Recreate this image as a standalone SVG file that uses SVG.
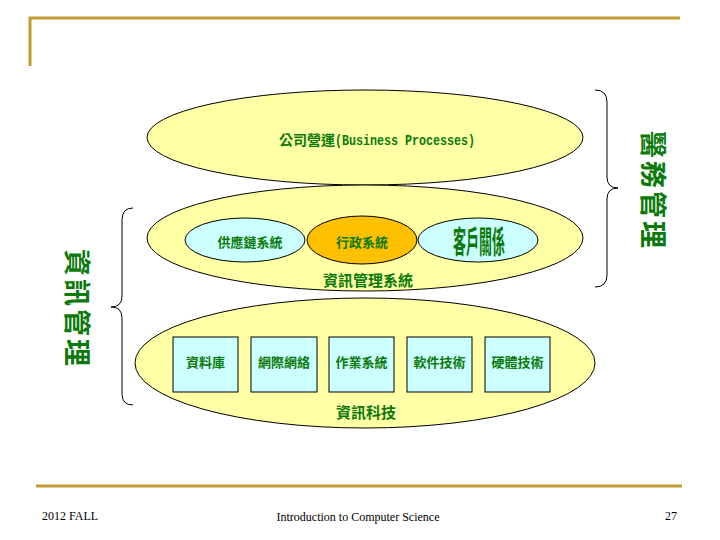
<svg xmlns="http://www.w3.org/2000/svg" width="720" height="540" viewBox="0 0 720 540">
<style>
.big{fill:#FFFFA6;stroke:#000;stroke-width:1}
.cyan{fill:#CCFFFF;stroke:#000;stroke-width:1}
.orange{fill:#FFC000;stroke:#000;stroke-width:1}
.g{fill:#0B7A0B;font-family:"Noto Sans CJK TC","Noto Sans CJK SC",sans-serif;font-weight:bold;text-anchor:middle}
.foot{fill:#000;font-family:"Liberation Serif",serif;font-size:12px}
.brace{fill:none;stroke:#000;stroke-width:1}
.gold{stroke:#BF9B30;stroke-width:3;fill:none}
</style>
<rect width="720" height="540" fill="#fff"/>
<g id="frame">
<path class="gold" d="M30,66 V18 H680"/>
<line class="gold" x1="36" y1="486" x2="682" y2="486"/>
</g>
<g id="business">
<ellipse class="big" cx="365" cy="137.5" rx="218" ry="47.5"/>
<text class="g" x="377" y="145" font-size="14">公司營運<tspan font-family="'Liberation Mono',monospace" textLength="140" lengthAdjust="spacingAndGlyphs">(Business Processes)</tspan></text>
</g>
<g id="mis">
<ellipse class="big" cx="365" cy="238" rx="218" ry="53"/>
<text class="g" x="368" y="286" font-size="15">資訊管理系統</text>
</g>
<g id="scm">
<ellipse class="cyan" cx="245" cy="240" rx="60" ry="22"/>
<text class="g" x="250" y="247" font-size="13">供應鏈系統</text>
</g>
<g id="crm">
<ellipse class="cyan" cx="478" cy="240" rx="60" ry="22"/>
<text class="g" transform="translate(479,242) scale(1,2.4)" x="0" y="4.5" font-size="13">客戶關係</text>
</g>
<g id="admin">
<ellipse class="orange" cx="362" cy="240" rx="55" ry="24"/>
<text class="g" x="362" y="247" font-size="13">行政系統</text>
</g>
<g id="it">
<ellipse class="big" cx="365" cy="363" rx="230" ry="65"/>
<text class="g" x="366" y="418" font-size="15">資訊科技</text>
</g>
<g id="db">
<rect class="cyan" x="173" y="337" width="65" height="55"/>
<text class="g" x="205.5" y="367" font-size="13">資料庫</text>
</g>
<g id="net">
<rect class="cyan" x="251" y="337" width="66" height="55"/>
<text class="g" x="284" y="367" font-size="13">網際網絡</text>
</g>
<g id="os">
<rect class="cyan" x="329" y="337" width="65" height="55"/>
<text class="g" x="361.5" y="367" font-size="13">作業系統</text>
</g>
<g id="sw">
<rect class="cyan" x="407" y="337" width="65" height="55"/>
<text class="g" x="439.5" y="367" font-size="13">軟件技術</text>
</g>
<g id="hw">
<rect class="cyan" x="485" y="337" width="65" height="55"/>
<text class="g" x="517.5" y="367" font-size="13">硬體技術</text>
</g>
<g id="connectors">
<path class="brace" d="M133,208 Q122,208 122,220 L122,296 Q122,307 111,307 Q122,307 122,318 L122,394 Q122,405 133,405"/>
<path class="brace" d="M595,90 Q607,90 607,102 L607,177 Q607,188 618,188 Q607,188 607,199 L607,275 Q607,287 595,287"/>
</g>
<g id="label-im">
<text class="g" transform="translate(77,309) rotate(90)" x="0" y="10" font-size="27" letter-spacing="3">資訊管理</text>
</g>
<g id="label-bm">
<text class="g" transform="translate(653,191) rotate(90)" x="0" y="10" font-size="27" letter-spacing="3">醫務管理</text>
</g>
<g id="footer">
<text class="foot" x="42" y="520">2012 FALL</text>
<text class="foot" x="358" y="521" text-anchor="middle">Introduction to Computer Science</text>
<text class="foot" x="677" y="520" text-anchor="end">27</text>
</g>
</svg>
